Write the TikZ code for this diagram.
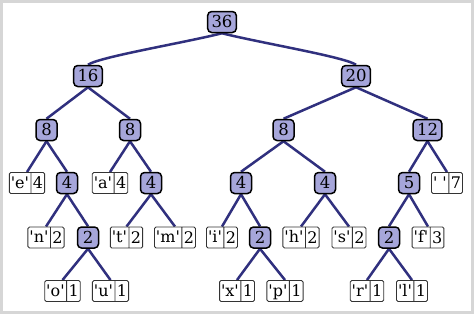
\documentclass[tikz,border=0pt]{standalone}
\usepackage{fontspec}
\setmainfont{DejaVu Serif}[Ligatures=TeXOff]
\usetikzlibrary{shapes.multipart,backgrounds}
\definecolor{nodefill}{HTML}{A6A6DA}
\definecolor{edgecol}{HTML}{30307E}
\definecolor{framecol}{HTML}{D6D6D6}
\tikzset{
  inode/.style={draw=black, line width=1.5pt, fill=nodefill, rounded corners=4pt,
    minimum width=21pt, inner xsep=3.8pt, inner ysep=4pt,
    text height=12pt, text depth=1pt, font=\fontsize{16.5}{16.5}\selectfont},
  leaf/.style={rectangle split, rectangle split horizontal, rectangle split parts=2,
    draw=black!80, line width=0.9pt, fill=white, rounded corners=1.5pt,
    inner xsep=1.5pt, inner ysep=3.5pt, text height=12pt, text depth=2pt,
    font=\fontsize{16}{16}\selectfont},
  edge/.style={draw=edgecol, line width=2.5pt}
}
\begin{document}
\begin{tikzpicture}[x=1pt,y=-1pt]
\useasboundingbox (0,0) rectangle (474,314);
% level 0-2
\node[inode] (r) at (222,22) {36};
\node[inode] (a) at (88,76) {16};
\node[inode] (b) at (356,76) {20};
\node[inode] (aa) at (46.5,130) {8};
\node[inode] (ab) at (130,130) {8};
\node[inode] (ba) at (283.5,130) {8};
\node[inode] (bb) at (427.5,130) {12};
% level 3
\node[leaf] (e) at (27,183) {'e'\nodepart{two}4};
\node[inode] (aab) at (67,183) {4};
\node[leaf] (la) at (110,183) {'a'\nodepart{two}4};
\node[inode] (abb) at (151,183) {4};
\node[inode] (baa) at (241,183) {4};
\node[inode] (bab) at (325,183) {4};
\node[inode] (bba) at (409,183) {5};
\node[leaf] (sp) at (447,183) {' '\nodepart{two}7};
% level 4
\node[leaf] (n) at (46,237.5) {'n'\nodepart{two}2};
\node[inode] (aabb) at (88,237.5) {2};
\node[leaf] (t) at (126.5,237.5) {'t'\nodepart{two}2};
\node[leaf] (m) at (175,237.5) {'m'\nodepart{two}2};
\node[leaf] (i) at (222,237.5) {'i'\nodepart{two}2};
\node[inode] (baab) at (260,237.5) {2};
\node[leaf] (h) at (301,237.5) {'h'\nodepart{two}2};
\node[leaf] (s) at (349,237.5) {'s'\nodepart{two}2};
\node[inode] (bbaa) at (389,237.5) {2};
\node[leaf] (f) at (428,237.5) {'f'\nodepart{two}3};
% level 5
\node[leaf] (o) at (62.5,291) {'o'\nodepart{two}1};
\node[leaf] (u) at (110.5,291) {'u'\nodepart{two}1};
\node[leaf] (x) at (237,291) {'x'\nodepart{two}1};
\node[leaf] (p) at (285,291) {'p'\nodepart{two}1};
\node[leaf] (lr) at (367,291) {'r'\nodepart{two}1};
\node[leaf] (ll) at (412,291) {'l'\nodepart{two}1};
\begin{scope}[on background layer]
\fill[white] (0,0) rectangle (474,314);
\draw[framecol, line width=3pt] (1.5,1.5) rectangle (472.5,312.5);
\draw[edge] (r.south) .. controls +(-40,10) and +(12,-8) .. (a.north);
\draw[edge] (r.south) .. controls +(40,10) and +(-12,-8) .. (b.north);
\foreach \p/\c in {a/aa,a/ab,b/ba,b/bb,aa/e,aa/aab,ab/la,ab/abb,ba/baa,ba/bab,bb/bba,bb/sp,
  aab/n,aab/aabb,abb/t,abb/m,baa/i,baa/baab,bab/h,bab/s,bba/bbaa,bba/f,
  aabb/o,aabb/u,baab/x,baab/p,bbaa/lr,bbaa/ll}
  \draw[edge] (\p.south) -- (\c.north);
\end{scope}
\end{tikzpicture}
\end{document}
